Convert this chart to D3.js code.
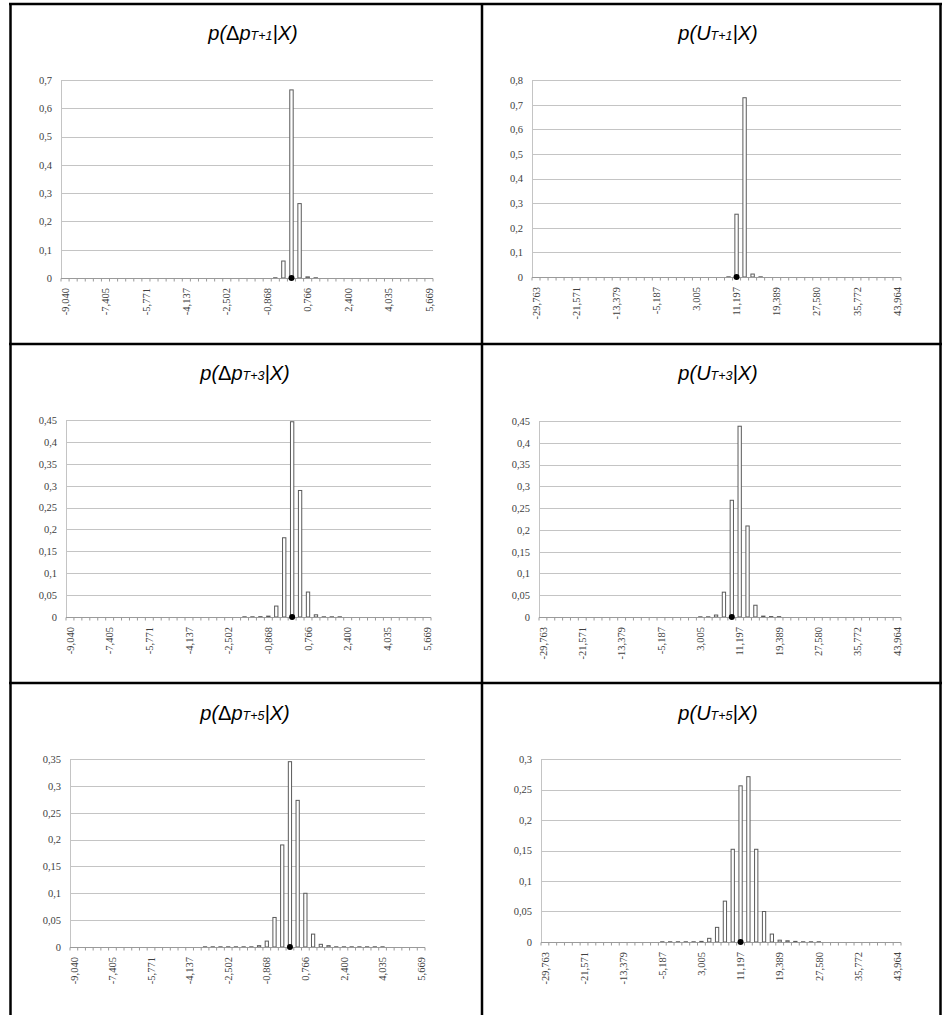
<!DOCTYPE html>
<html lang="en">
<head>
    <meta charset="UTF-8">
    <title>Predictive distributions</title>
    <style>
        body {
            margin: 0;
            background: #fff;
        }
        svg {
            display: block;
        }
        .title {
            font-family: 'Liberation Sans', Arial, sans-serif;
            font-size: 20px;
            font-style: italic;
            fill: #000;
        }
        .axis path, .axis line {
            stroke: none;
        }
    </style>
</head>
<body>
    <svg id="chart" width="942" height="1015"></svg>

    <script src="https://cdnjs.cloudflare.com/ajax/libs/d3/7.8.5/d3.min.js"></script>
    <script>
        // category labels (every 5th bin is labelled, 46 bins per chart)
        const dpLabels = ["-9,040", "-7,405", "-5,771", "-4,137", "-2,502", "-0,868", "0,766", "2,400", "4,035", "5,669"];
        const uLabels = ["-29,763", "-21,571", "-13,379", "-5,187", "3,005", "11,197", "19,389", "27,580", "35,772", "43,964"];

        // bin probabilities
        const dpT1 = [
            0, 0, 0, 0, 0, 0, 0, 0, 0, 0,
            0, 0, 0, 0, 0, 0, 0, 0, 0, 0,
            0, 0, 0, 0, 0, 0, 0.0008, 0.06, 0.665, 0.263,
            0.004, 0.0008, 0, 0, 0, 0, 0, 0, 0, 0,
            0, 0, 0, 0, 0, 0
        ];
        const uT1 = [
            0, 0, 0, 0, 0, 0, 0, 0, 0, 0,
            0, 0, 0, 0, 0, 0, 0, 0, 0, 0,
            0, 0, 0, 0, 0.0008, 0.255, 0.728, 0.012, 0.0008, 0,
            0, 0, 0, 0, 0, 0, 0, 0, 0, 0,
            0, 0, 0, 0, 0, 0
        ];
        const dpT3 = [
            0, 0, 0, 0, 0, 0, 0, 0, 0, 0,
            0, 0, 0, 0, 0, 0, 0, 0, 0, 0,
            0, 0, 0.0005, 0.0005, 0.0008, 0.002, 0.025, 0.181, 0.446, 0.289,
            0.057, 0.005, 0.0005, 0.0005, 0.0005, 0, 0, 0, 0, 0,
            0, 0, 0, 0, 0, 0
        ];
        const uT3 = [
            0, 0, 0, 0, 0, 0, 0, 0, 0, 0,
            0, 0, 0, 0, 0, 0, 0, 0, 0, 0,
            0.0005, 0.0005, 0.0045, 0.057, 0.268, 0.438, 0.209, 0.027, 0.002, 0.001,
            0.0008, 0, 0, 0, 0, 0, 0, 0, 0, 0,
            0, 0, 0, 0, 0, 0
        ];
        const dpT5 = [
            0, 0, 0, 0, 0, 0, 0, 0, 0, 0,
            0, 0, 0, 0, 0, 0, 0, 0.0004, 0.0004, 0.0004,
            0.0004, 0.0004, 0.0004, 0.0004, 0.0025, 0.011, 0.055, 0.19, 0.345, 0.273,
            0.1, 0.024, 0.005, 0.0025, 0.0004, 0.0004, 0.0004, 0.0004, 0.0004, 0.0004,
            0.0004, 0, 0, 0, 0, 0
        ];
        const uT5 = [
            0, 0, 0, 0, 0, 0, 0, 0, 0, 0,
            0, 0, 0, 0, 0, 0.0004, 0.0004, 0.0004, 0.0004, 0.0004,
            0.001, 0.006, 0.024, 0.067, 0.152, 0.256, 0.271, 0.152, 0.05, 0.013,
            0.003, 0.002, 0.001, 0.0004, 0.0004, 0.0004, 0, 0, 0, 0,
            0, 0, 0, 0, 0, 0
        ];

        // y tick values
        const yTicks1 = [0, 0.1, 0.2, 0.3, 0.4, 0.5, 0.6, 0.7];
        const yTicks2 = [0, 0.1, 0.2, 0.3, 0.4, 0.5, 0.6, 0.7, 0.8];
        const yTicks3 = [0, 0.05, 0.1, 0.15, 0.2, 0.25, 0.3, 0.35, 0.4, 0.45];
        const yTicks5 = [0, 0.05, 0.1, 0.15, 0.2, 0.25, 0.3, 0.35];
        const yTicks6 = [0, 0.05, 0.1, 0.15, 0.2, 0.25, 0.3];

        // bin holding the observed value (black dot)
        const dotBins = [28, 25, 28, 24, 28, 25];

        const panels = [
            { name: "dp", h: 1, values: dpT1, labels: dpLabels, ticks: yTicks1, dot: dotBins[0] },
            { name: "u",  h: 1, values: uT1,  labels: uLabels,  ticks: yTicks2, dot: dotBins[1] },
            { name: "dp", h: 3, values: dpT3, labels: dpLabels, ticks: yTicks3, dot: dotBins[2] },
            { name: "u",  h: 3, values: uT3,  labels: uLabels,  ticks: yTicks3, dot: dotBins[3] },
            { name: "dp", h: 5, values: dpT5, labels: dpLabels, ticks: yTicks5, dot: dotBins[4] },
            { name: "u",  h: 5, values: uT5,  labels: uLabels,  ticks: yTicks6, dot: dotBins[5] }
        ];

        // layout: plot boxes and title anchors
        const boxes = [
            { x0: 61,  x1: 433, y0: 80,  y1: 278, tx: 253, ty: 40 },
            { x0: 532, x1: 901, y0: 80,  y1: 277, tx: 718, ty: 40 },
            { x0: 66,  x1: 431, y0: 420, y1: 617, tx: 245, ty: 380 },
            { x0: 539, x1: 901, y0: 421, y1: 617, tx: 718, ty: 380 },
            { x0: 70,  x1: 425, y0: 759, y1: 947, tx: 245, ty: 720 },
            { x0: 541, x1: 901, y0: 759, y1: 942, tx: 718, ty: 720 }
        ];

        const axisFont = "'Liberation Serif', 'DejaVu Serif', 'Times New Roman', serif";

        const svg = d3.select("#chart");
        const fmt = d => d === 0 ? "0" : String(d).replace(".", ",");

        panels.forEach((p, k) => {
            const b = boxes[k];
            const g = svg.append("g");
            const n = p.values.length;

            const x = d3.scaleBand()
                .domain(d3.range(n))
                .range([b.x0, b.x1])
                .paddingInner(0.58)
                .paddingOuter(0.29);
            const y = d3.scaleLinear()
                .domain([0, p.ticks[p.ticks.length - 1]])
                .range([b.y1, b.y0]);

            // title
            const t = g.append("text")
                .attr("class", "title")
                .attr("x", b.tx)
                .attr("y", b.ty)
                .attr("text-anchor", "middle");
            t.append("tspan").text("p(");
            if (p.name === "dp") {
                t.append("tspan").attr("font-style", "normal").text("Δ");
                t.append("tspan").text("p");
            } else {
                t.append("tspan").text("U");
            }
            t.append("tspan").attr("font-size", 12.5).text("T+" + p.h);
            t.append("tspan").text("|X)");

            // gridlines
            g.append("g")
                .selectAll("line")
                .data(p.ticks.slice(1))
                .enter().append("line")
                .attr("x1", b.x0)
                .attr("x2", b.x1)
                .attr("y1", d => Math.round(y(d)) + 0.5)
                .attr("y2", d => Math.round(y(d)) + 0.5)
                .attr("stroke", "#c4c4c4");

            // y axis line
            g.append("line")
                .attr("x1", b.x0 + 0.5).attr("x2", b.x0 + 0.5)
                .attr("y1", b.y0).attr("y2", b.y1)
                .attr("stroke", "#c4c4c4");

            // bars
            g.append("g")
                .selectAll("rect")
                .data(p.values.map((v, i) => ({ i, v })).filter(d => d.v > 0))
                .enter().append("rect")
                .attr("x", d => x(d.i))
                .attr("width", x.bandwidth())
                .attr("y", d => y(d.v))
                .attr("height", d => y(0) - y(d.v))
                .attr("fill", "#fff")
                .attr("stroke", "#5a5a5a")
                .attr("stroke-width", 1);

            // x axis line + tick marks between categories
            const y0 = Math.round(y(0)) + 0.5;
            g.append("line")
                .attr("x1", b.x0).attr("x2", b.x1)
                .attr("y1", y0).attr("y2", y0)
                .attr("stroke", "#9a9a9a");
            g.append("g")
                .selectAll("line")
                .data(d3.range(n + 1))
                .enter().append("line")
                .attr("x1", i => b.x0 + i * (b.x1 - b.x0) / n)
                .attr("x2", i => b.x0 + i * (b.x1 - b.x0) / n)
                .attr("y1", y0)
                .attr("y2", y0 + 3)
                .attr("stroke", "#9a9a9a");

            // x labels, every 5th bin, rotated
            g.append("g")
                .attr("class", "axis")
                .attr("transform", `translate(0,${y(0)})`)
                .call(d3.axisBottom(x)
                    .tickValues(d3.range(0, n, 5))
                    .tickFormat(i => p.labels[i / 5])
                    .tickSize(0))
                .attr("font-family", axisFont)
                .attr("font-size", 10.5)
                .selectAll("text")
                .attr("fill", "#404040")
                .attr("x", -10)
                .attr("y", 0)
                .attr("dy", "0.35em")
                .attr("transform", "rotate(-90)")
                .style("text-anchor", "end");

            // y labels
            g.append("g")
                .attr("class", "axis")
                .attr("transform", `translate(${b.x0},0)`)
                .call(d3.axisLeft(y)
                    .tickValues(p.ticks)
                    .tickFormat(fmt)
                    .tickSize(0)
                    .tickPadding(9))
                .attr("font-family", axisFont)
                .attr("font-size", 10.5)
                .selectAll("text")
                .attr("fill", "#404040");

            // observed value
            g.append("circle")
                .attr("cx", x(p.dot) + x.bandwidth() / 2)
                .attr("cy", y(0))
                .attr("r", 3)
                .attr("fill", "#000");
        });

        // table frame
        const frame = [
            [10.5, 3, 10.5, 1015],
            [482, 3, 482, 1015],
            [940.5, 3, 940.5, 1015],
            [9, 4, 942, 4],
            [9, 344, 942, 344],
            [9, 683, 942, 683]
        ];
        svg.append("g")
            .selectAll("line")
            .data(frame)
            .enter().append("line")
            .attr("x1", d => d[0]).attr("y1", d => d[1])
            .attr("x2", d => d[2]).attr("y2", d => d[3])
            .attr("stroke", "#000")
            .attr("stroke-width", 2.5);
    </script>
</body>
</html>
